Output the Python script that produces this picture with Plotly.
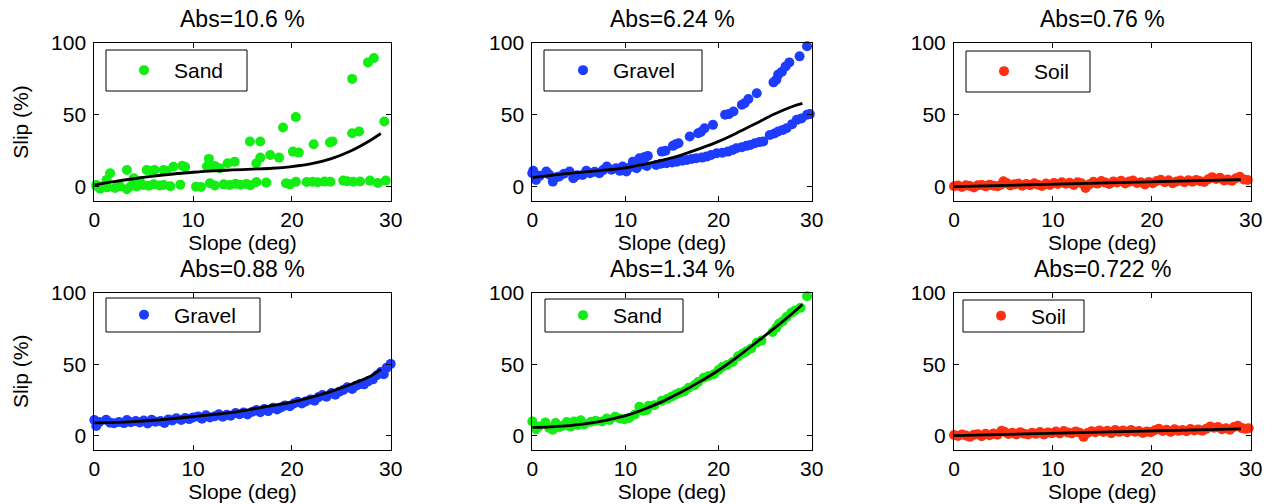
import plotly.graph_objects as go

# ---------------- data ----------------
titles = ["Abs=10.6 %", "Abs=6.24 %", "Abs=0.76 %",
          "Abs=0.88 %", "Abs=1.34 %", "Abs=0.722 %"]
names = ["Sand", "Gravel", "Soil", "Gravel", "Sand", "Soil"]

x_ticks = [0, 10, 20, 30]
y_ticks = [0, 50, 100]

sand1_pts = [
    (0.2, 0.5), (0.6, -1.5), (1.0, 0.8), (1.3, -0.5), (2.1, -1.0), (2.6, 0.2), (3.3, -1.8), (3.7, 0.5),
    (4.3, 0.2), (4.9, 1.2), (5.5, 0.6), (6.0, 1.6), (6.6, 0.8), (7.0, 1.2), (7.7, 0.3), (8.7, 1.4),
    (10.3, 0.0), (10.8, -0.2), (11.7, 2.4), (12.2, 0.8), (13.1, 1.6), (13.7, 1.2), (14.3, 2.0),
    (14.8, 1.4), (15.4, 1.8), (15.8, 1.0), (16.4, 3.2), (17.4, 2.8), (19.4, 2.3), (19.8, 1.6),
    (20.4, 3.4), (21.5, 3.2), (22.1, 3.4), (22.6, 3.0), (23.3, 3.5), (23.9, 3.4), (25.2, 4.2),
    (25.6, 3.8), (26.2, 3.4), (26.9, 3.6), (27.9, 4.2), (28.7, 2.5), (29.5, 4.2),
    (0.2, 1.2), (1.25, 4.7), (1.6, 9.3), (3.3, 11.6), (4.0, 5.8), (4.6, 4.0), (5.3, 11.6), (5.8, 11.0),
    (6.1, 11.6), (7.0, 11.6), (7.3, 10.8), (8.0, 13.8), (8.9, 14.5), (9.2, 13.6), (11.4, 14.0),
    (11.6, 19.3), (12.2, 14.4), (12.7, 12.8), (13.5, 16.3), (14.2, 17.4), (15.75, 31.4), (16.8, 31.4),
    (16.4, 16.3), (16.8, 20.2), (17.8, 22.0), (18.7, 20.2), (19.1, 41.2), (20.1, 24.4), (20.7, 23.7),
    (20.4, 48.4), (22.2, 29.5), (23.85, 30.7), (24.1, 31.5), (26.1, 37.2), (26.8, 38.4), (26.1, 75.0),
    (27.7, 86.5), (28.3, 89.5), (29.35, 45.3),
]
fit1_x = [0, 2, 4, 6, 8, 10, 12, 14, 16, 18, 20, 22, 24, 26, 28, 29]
fit1_y = [1.2, 3.5, 5.5, 7.3, 8.8, 10.0, 11.0, 11.6, 12.2, 12.8, 14.0, 16.0, 19.5, 25.0, 32.5, 37.0]

gravel1_pts = [
    (0.0, 9.3), (0.1, 11.0), (0.4, 4.7), (0.8, 7.5), (1.5, 10.5), (1.8, 8.5), (2.2, 3.5), (2.6, 6.5),
    (2.9, 7.0), (3.4, 9.0), (4.0, 10.5), (4.4, 5.8), (4.8, 8.0), (5.4, 8.1), (5.8, 11.0), (6.2, 9.3),
    (6.7, 10.4), (7.2, 9.3), (7.6, 11.5), (8.0, 14.0), (8.5, 11.8), (9.0, 12.8), (9.4, 11.0),
    (9.7, 14.0), (10.1, 10.5), (10.5, 13.5), (11.2, 12.8), (11.5, 15.1),
    (10.8, 17.4), (11.5, 19.8), (12.0, 20.5), (12.4, 21.4), (13.9, 24.4), (14.3, 25.0), (15.1, 28.4),
    (15.4, 29.5), (15.7, 30.2), (16.9, 34.9), (17.8, 37.2), (18.1, 38.0), (18.5, 40.7), (19.4, 43.0),
    (20.7, 50.0), (21.1, 50.5), (21.6, 52.3), (22.5, 57.0), (22.8, 58.0), (23.2, 61.0), (24.1, 65.0),
    (25.9, 72.6), (26.2, 74.4), (26.4, 78.0), (26.8, 80.0), (27.2, 83.7), (27.6, 86.5), (28.7, 90.7),
    (29.5, 97.7),
    (12.3, 14.4), (13.3, 15.1), (13.8, 16.0), (14.4, 16.3), (15.0, 16.8), (15.5, 17.4), (16.1, 18.0),
    (16.6, 18.6), (17.1, 19.2), (17.6, 19.8), (18.2, 20.2), (18.7, 20.9), (19.2, 22.0), (19.8, 23.3),
    (20.4, 23.6), (21.0, 24.4), (21.5, 25.5), (21.9, 26.7), (22.5, 27.5), (23.0, 28.4), (23.4, 29.0),
    (23.9, 30.2), (24.4, 31.0), (24.8, 31.4), (25.5, 36.0), (26.0, 37.0), (26.4, 38.4), (26.9, 39.5),
    (27.3, 40.7), (27.9, 43.5), (28.4, 46.5), (28.9, 47.5), (29.5, 50.0), (29.8, 50.5),
]
fit2_x = [0, 2, 4, 6, 8, 10, 12, 14, 16, 18, 20, 22, 24, 26, 28, 29]
fit2_y = [6.3, 7.8, 9.2, 10.4, 11.6, 13.0, 15.5, 18.5, 22.0, 26.5, 31.5, 37.5, 44.0, 50.5, 56.0, 58.0]

soil1_pts = [
    (0.0, 0.3), (0.4, 0.8), (0.8, -0.3), (1.2, 1.0), (1.6, 0.5), (2.0, -0.6), (2.4, 0.9), (2.8, 1.2),
    (3.2, 0.2), (3.6, 1.4), (4.0, 0.6), (4.4, 0.3), (4.8, 1.5), (5.0, 3.8), (5.3, 2.6), (5.7, 0.8),
    (6.1, 1.6), (6.5, 2.2), (6.9, 0.7), (7.3, 1.9), (7.7, 1.0), (8.1, 2.3), (8.5, 1.4), (8.9, 0.5),
    (9.3, 2.2), (9.7, 1.1), (10.1, 2.6), (10.5, 1.8), (10.9, 3.0), (11.3, 2.0), (11.7, 2.7), (12.1, 1.2),
    (12.5, 3.1), (12.9, 2.4), (13.3, -0.9), (13.7, 1.6), (14.1, 3.4), (14.5, 2.1), (14.9, 3.9),
    (15.3, 2.8), (15.7, 1.9), (16.1, 3.6), (16.5, 2.9), (16.9, 4.1), (17.3, 2.2), (17.7, 3.5),
    (18.1, 4.2), (18.5, 2.6), (18.9, 3.0), (19.3, 1.5), (19.7, 3.3), (20.1, 2.4), (20.5, 3.9),
    (20.9, 4.8), (21.3, 3.1), (21.7, 4.4), (22.1, 2.3), (22.5, 3.6), (22.9, 4.3), (23.3, 3.0),
    (23.7, 4.5), (24.1, 3.4), (24.5, 4.7), (24.9, 3.8), (25.3, 3.3), (25.7, 5.1), (26.1, 6.6),
    (26.5, 5.4), (26.9, 6.2), (27.3, 4.3), (27.7, 4.9), (28.1, 4.1), (28.5, 5.8), (28.9, 6.8),
    (29.3, 5.0), (29.7, 4.6),
]
fit3_x = [0, 29]
fit3_y = [0.0, 4.9]

gravel2_pts = [
    (0.0, 11.0), (0.2, 6.8), (0.5, 9.5), (1.2, 11.2), (1.6, 9.0), (2.0, 8.7), (2.5, 9.6), (3.0, 8.8),
    (3.3, 10.9), (3.7, 9.4), (4.2, 10.2), (4.6, 9.3), (5.0, 10.6), (5.4, 8.5), (5.8, 11.2), (6.2, 9.8),
    (6.7, 10.3), (7.1, 8.9), (7.5, 11.4), (7.9, 10.7), (8.3, 12.2), (8.8, 11.0), (9.2, 12.4),
    (9.6, 11.6), (10.0, 12.8), (10.5, 13.5), (10.9, 11.9), (11.3, 14.3), (11.7, 12.7), (12.2, 13.6),
    (12.6, 15.0), (13.0, 13.2), (13.4, 14.6), (13.8, 13.9), (14.3, 15.8), (14.7, 15.0), (15.1, 16.2),
    (15.5, 14.9), (16.0, 16.8), (16.4, 17.9), (16.8, 16.4), (17.2, 18.6), (17.6, 17.2), (18.1, 19.5),
    (18.5, 18.3), (18.9, 19.8), (19.3, 21.2), (19.8, 20.6), (20.2, 22.5), (20.6, 23.8), (21.0, 22.5),
    (21.4, 24.0), (21.9, 25.4), (22.3, 24.5), (22.7, 27.0), (23.1, 28.4), (23.5, 27.3), (24.0, 29.9),
    (24.4, 28.6), (24.8, 30.8), (25.2, 32.0), (25.6, 33.8), (26.1, 32.6), (26.5, 35.0), (26.9, 36.2),
    (27.3, 35.9), (27.7, 38.0), (28.2, 39.4), (28.6, 42.3), (29.0, 44.5), (29.3, 43.0), (29.6, 47.6),
    (30.0, 50.2),
]
fit4_x = [0, 2, 4, 6, 8, 10, 12, 14, 16, 18, 20, 22, 24, 26, 28, 29]
fit4_y = [8.9, 9.3, 9.9, 10.8, 12.0, 13.4, 14.8, 16.3, 18.6, 21.0, 23.5, 27.0, 31.0, 36.0, 41.8, 46.3]

sand2_pts = [
    (0.0, 10.0), (0.4, 4.5), (0.7, 6.5), (1.4, 9.3), (1.8, 5.5), (2.2, 4.2), (2.5, 8.9), (2.9, 6.0),
    (3.3, 7.0), (3.7, 9.5), (4.1, 6.2), (4.5, 10.0), (4.9, 7.5), (5.2, 10.8), (5.6, 8.0), (6.3, 9.7),
    (6.8, 10.5), (7.5, 10.0), (8.0, 12.0), (8.3, 11.0), (8.9, 13.2), (9.4, 12.0), (9.9, 11.5),
    (10.4, 12.4), (11.0, 14.8), (11.5, 20.2), (11.9, 17.5), (12.3, 18.0), (12.5, 21.0), (13.1, 21.3),
    (13.9, 24.5), (14.5, 25.8), (15.0, 27.5), (15.4, 28.8), (15.8, 30.0), (16.3, 31.0), (16.8, 33.5),
    (17.4, 35.2), (17.8, 37.5), (18.4, 40.5), (18.9, 41.8), (19.5, 43.0), (20.0, 46.0), (20.4, 48.0),
    (20.9, 49.5), (21.5, 51.5), (22.1, 55.5), (22.6, 57.5), (23.0, 59.0), (23.5, 61.0), (24.1, 65.0),
    (24.6, 66.5), (25.8, 72.5), (26.2, 75.5), (26.5, 78.5), (26.9, 80.0), (27.3, 83.0), (27.8, 86.0),
    (28.2, 87.5), (28.8, 89.5), (29.5, 97.5),
]
fit5_x = [0, 2, 4, 6, 8, 10, 12, 14, 16, 18, 20, 22, 24, 26, 28, 29]
fit5_y = [5.8, 6.2, 7.0, 8.6, 10.9, 14.0, 18.5, 24.0, 30.5, 37.8, 45.8, 55.0, 65.0, 75.2, 86.0, 91.8]

soil2_pts = [
    (0.0, 0.5), (0.4, -0.2), (0.8, 0.9), (1.2, 0.2), (1.6, -0.8), (2.0, 0.6), (2.4, 1.1), (2.8, -0.4),
    (3.2, 1.3), (3.6, 0.4), (4.0, 1.6), (4.4, 0.7), (4.8, 3.5), (5.1, 2.8), (5.5, 1.2), (5.9, 2.0),
    (6.3, 0.9), (6.7, 2.5), (7.1, 1.4), (7.5, 0.8), (7.9, 2.1), (8.3, 1.3), (8.7, 2.6), (9.1, 0.9),
    (9.5, 2.3), (9.9, 1.7), (10.3, 2.9), (10.7, 1.5), (11.1, 3.2), (11.5, 2.3), (11.9, 1.6),
    (12.3, 3.0), (12.7, 2.1), (13.1, -0.8), (13.5, 1.9), (13.9, 3.1), (14.3, 2.4), (14.7, 3.7),
    (15.1, 2.6), (15.5, 3.4), (15.9, 1.8), (16.3, 4.0), (16.7, 2.7), (17.1, 3.6), (17.5, 2.4),
    (17.9, 3.9), (18.3, 2.8), (18.7, 3.3), (19.1, 1.9), (19.5, 3.0), (19.9, 2.5), (20.3, 3.8),
    (20.7, 4.9), (21.1, 3.3), (21.5, 4.2), (21.9, 2.7), (22.3, 4.5), (22.7, 3.4), (23.1, 4.0),
    (23.5, 3.1), (23.9, 4.6), (24.3, 3.6), (24.7, 4.4), (25.1, 3.5), (25.5, 4.8), (25.9, 6.4),
    (26.3, 5.6), (26.7, 6.0), (27.1, 4.5), (27.5, 5.2), (27.9, 4.2), (28.3, 6.1), (28.7, 7.0),
    (29.1, 5.3), (29.5, 4.8), (29.8, 5.2),
]
fit6_x = [0, 29]
fit6_y = [0.0, 4.8]

# ---------------- styling ----------------
W, H = 1274, 504
FONT = "Liberation Sans, Arial, Helvetica, sans-serif"
GREEN = "#12ee12"
BLUE = "#1e3cff"
RED = "#ff3010"
colors = [GREEN, BLUE, RED, BLUE, GREEN, RED]

pts_list = [sand1_pts, gravel1_pts, soil1_pts, gravel2_pts, sand2_pts, soil2_pts]
fits = [(fit1_x, fit1_y), (fit2_x, fit2_y), (fit3_x, fit3_y),
        (fit4_x, fit4_y), (fit5_x, fit5_y), (fit6_x, fit6_y)]

# panel pixel boxes
X_DOM = [(94.3, 390.7), (532.3, 811.7), (954.0, 1250.7)]
Y_DOM = [(43.0, 201.0), (292.7, 450.0)]
# legend boxes (px): x0, x1, y0, y1
LEG_BOX = [(106, 247, 50, 91), (544, 702, 50, 91), (966, 1090, 51, 92),
           (106, 260, 298, 332), (545, 683, 299, 332), (963, 1084, 300, 332)]
LEG_SYM = [142, 581, 1002, 142, 581, 999]


def px(x):
    return x / W


def py(y):
    return 1 - y / H


fig = go.Figure()
layout = dict(
    width=W, height=H, autosize=False,
    margin=dict(l=0, r=0, t=0, b=0, pad=0, autoexpand=False),
    paper_bgcolor="white", plot_bgcolor="white",
    font=dict(family=FONT, size=20, color="black"),
    showlegend=True,
)
annotations = []
shapes = []

for i in range(6):
    row, col = divmod(i, 3)
    k = "" if i == 0 else str(i + 1)
    xs = [p[0] for p in pts_list[i]]
    ys = [p[1] for p in pts_list[i]]
    leg = "legend" + k
    fig.add_trace(go.Scatter(
        x=xs, y=ys, mode="markers", name=names[i],
        marker=dict(color=colors[i], size=10, line=dict(width=0)),
        xaxis="x" + k, yaxis="y" + k, legend=leg, cliponaxis=False,
        showlegend=True,
    ))
    fx, fy = fits[i]
    fig.add_trace(go.Scatter(
        x=fx, y=fy, mode="lines", line=dict(color="black", width=2.8, shape="spline"),
        xaxis="x" + k, yaxis="y" + k, showlegend=False, hoverinfo="skip",
    ))
    x0, x1 = X_DOM[col]
    y0, y1 = Y_DOM[row]
    layout["xaxis" + k] = dict(
        domain=[px(x0), px(x1)], range=[0, 30], tickvals=x_ticks,
        ticks="inside", ticklen=5, tickcolor="black", showline=True, linecolor="black",
        linewidth=1, mirror="ticks", showgrid=False, zeroline=False,
        tickfont=dict(size=21, family=FONT, color="black"), ticklabelstandoff=0,
        title=dict(text="Slope (deg)", font=dict(size=21, family=FONT, color="black"), standoff=0),
        anchor="y" + k, fixedrange=True, automargin=False,
    )
    layout["yaxis" + k] = dict(
        domain=[py(y1), py(y0)], range=[-10, 100], tickvals=y_ticks,
        ticks="inside", ticklen=5, tickcolor="black", showline=True, linecolor="black",
        linewidth=1, mirror="ticks", showgrid=False, zeroline=False,
        tickfont=dict(size=21, family=FONT, color="black"), ticklabelstandoff=3,
        anchor="x" + k, fixedrange=True, automargin=False,
    )
    if col == 0:
        layout["yaxis" + k]["title"] = dict(text="Slip (%)", font=dict(size=21, family=FONT, color="black"), standoff=16)
    # subplot title
    annotations.append(dict(
        text=titles[i], xref="paper", yref="paper", x=px((x0 + x1) / 2), y=py(y0 - 24),
        xanchor="center", yanchor="middle", showarrow=False,
        font=dict(size=23, family=FONT, color="black"),
    ))
    # legend frame + legend
    bx0, bx1, by0, by1 = LEG_BOX[i]
    shapes.append(dict(type="rect", xref="paper", yref="paper",
                       x0=px(bx0), x1=px(bx1), y0=py(by1), y1=py(by0),
                       line=dict(color="black", width=1), fillcolor="white", layer="above"))
    layout[leg] = dict(
        x=px(LEG_SYM[i] - 28), y=py((by0 + by1) / 2), xanchor="left", yanchor="middle",
        xref="paper", yref="paper", bgcolor="rgba(0,0,0,0)", borderwidth=0,
        font=dict(size=21, family=FONT, color="black"), itemwidth=50,
        orientation="v",
    )

layout["annotations"] = annotations
layout["shapes"] = shapes
fig.update_layout(**layout)
fig.write_html(
    "out.html",
    config={"displayModeBar": False},
    post_script="document.body.style.margin='0px';document.body.style.overflow='hidden';",
)
